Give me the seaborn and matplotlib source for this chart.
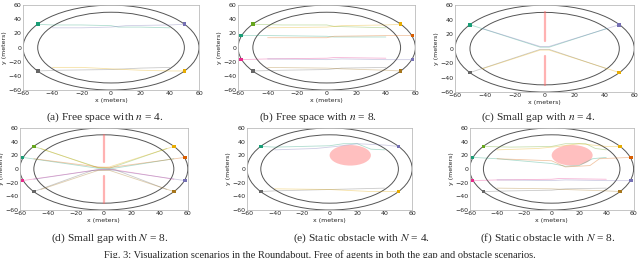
import matplotlib
matplotlib.use("Agg")
import matplotlib.pyplot as plt
from matplotlib.patches import Ellipse
import seaborn as sns
import pandas as pd

sns.set_style("white")
plt.rcParams["font.family"] = "DejaVu Sans"
plt.rcParams["mathtext.fontset"] = "stix"

# agent start points and colours
colors4 = ["#1b9e77", "#7570b3", "#666666", "#e6ab02"]
start4_x = [-50, 50, -50, 50]
start4_y = [33, 33, -33, -33]
colors8 = ["#66a61e", "#e6ab02", "#1b9e77", "#d95f02",
           "#e7298a", "#7570b3", "#666666", "#a6761d"]
start8_x = [-50, 50, -58, 58, -58, 58, -50, 50]
start8_y = [33, 33, 17, 17, -17, -17, -33, -33]

# (a) free space, n = 4
free4_x = [[-50, -40, -20, 0, 5, 20, 40],
           [50, 40, 10, 0, -20, -40],
           [-50, -35, 0, 20, 40],
           [50, 40, 20, 0, -20, -40]]
free4_y = [[33, 32, 32, 31, 29, 29, 28],
           [33, 32, 31, 29, 28, 28],
           [-33, -32, -31, -29, -28],
           [-33, -33, -32, -30, -28, -28]]

# (b) free space, n = 8
free8_x = [[-50, -30, 0, 5, 40],
           [50, 40, 10, 0, -40],
           [-58, -40, 0, 5, 40],
           [58, 40, 5, 0, -40],
           [-58, -40, 0, 5, 40],
           [58, 40, 10, 0, -40],
           [-50, -30, 0, 10, 40],
           [50, 40, 10, 0, -40]]
free8_y = [[33, 32, 32, 30, 28],
           [33, 32, 31, 29, 28],
           [17, 17, 16, 15, 15],
           [17, 17, 16, 14, 14],
           [-17, -16, -15, -14, -15],
           [-17, -17, -16, -17, -16],
           [-33, -32, -31, -29, -28],
           [-33, -32, -30, -29, -28]]

# (c) small gap, n = 4
gap4_x = [[-50, -3, 3, 42],
          [50, 3, -3, -42],
          [-50, -3, 3, 42],
          [50, 3, -3, -42]]
gap4_y = [[33, 2, 2, 28],
          [33, 3, 3, 28],
          [-33, -1, -1, -28],
          [-33, -2, -2, -28]]

# (d) small gap, n = 8
gap8_x = [[-50, -4, 4, 45],
          [50, 4, -5, -45],
          [-58, -4, 4, 50],
          [58, 4, -4, -50],
          [-58, -4, 4, 50],
          [58, 4, -4, -50],
          [-50, -8, 8, 45],
          [50, 4, -4, -45]]
gap8_y = [[33, 2, 1, 30],
          [33, 3, 2, 30],
          [17, 1, 0, 15],
          [17, 2, 3, 15],
          [-17, -1, 0, -15],
          [-17, -1, -1, -15],
          [-33, -2, -1, -30],
          [-33, -2, -2, -30]]

# (e) static obstacle, n = 4
obs4_x = [[-50, -40, 0, 10, 20, 30, 40],
          [50, 40, 20, 5, -10, -40],
          [-50, -40, 0, 40],
          [50, 30, 0, -40]]
obs4_y = [[33, 32, 34, 37, 37, 29, 28],
          [33, 35, 37, 33, 30, 28],
          [-33, -32, -30, -28],
          [-33, -33, -30, -29]]

# (f) static obstacle, n = 8
obs8_x = [[-50, -30, 0, 10, 25, 32, 40],
          [50, 40, 20, 5, -10, -40],
          [-58, -40, 0, 10, 20, 30, 40],
          [58, 35, 28, 10, 0, -40],
          [-58, -40, 0, 5, 40],
          [58, 40, 10, 0, -40],
          [-50, -30, 0, 10, 40],
          [50, 40, 10, 0, -40]]
obs8_y = [[33, 32, 33, 37, 37, 30, 28],
          [33, 33, 37, 33, 30, 28],
          [17, 15, 8, 4, 5, 15, 17],
          [17, 15, 5, 3, 12, 15],
          [-17, -16, -15, -14, -15],
          [-17, -17, -16, -17, -16],
          [-33, -32, -31, -29, -28],
          [-33, -32, -30, -29, -28]]

ticks = [-60, -40, -20, 0, 20, 40, 60]
wall_y = [[10, 50], [-10, -50]]
obstacle = (15, 20, 15)

fig = plt.figure(figsize=(6.4, 2.58), dpi=100)


def panel(rect, xs, ys, sx, sy, colors, walls=False, obst=False):
    ax = fig.add_axes(rect)
    names = ["a%d" % i for i in range(len(xs))]
    pal = dict(zip(names, colors))
    rows = []
    for name, tx, ty in zip(names, xs, ys):
        for i, (px, py) in enumerate(zip(tx, ty)):
            rows.append({"agent": name, "step": i, "x": px, "y": py})
    df = pd.DataFrame(rows)
    ax.add_patch(Ellipse((0, 0), 120, 120, fill=False, ec="#555555", lw=0.7))
    ax.add_patch(Ellipse((0, 0), 100, 100, fill=False, ec="#555555", lw=0.7))
    if walls:
        for wy in wall_y:
            ax.plot([0, 0], wy, color="#ff6666", alpha=0.5, lw=1.6, zorder=1)
    if obst:
        ax.add_patch(Ellipse(obstacle[:2], 2 * obstacle[2], 2 * obstacle[2],
                             color="#ff8080", alpha=0.5, lw=0, zorder=1))
    sns.lineplot(data=df, x="x", y="y", hue="agent", palette=pal, sort=False,
                 estimator=None, lw=0.6, alpha=0.35, legend=False, ax=ax)
    sns.scatterplot(x=sx, y=sy, hue=names, palette=pal, marker="s", s=7,
                    linewidth=0, legend=False, zorder=3, ax=ax)
    ax.set_xlim(-60, 60)
    ax.set_ylim(-60, 60)
    ax.set_xticks(ticks)
    ax.set_yticks(ticks)
    ax.tick_params(labelsize=4.5, length=0, pad=1)
    ax.set_xlabel("x (meters)", fontsize=4.5, labelpad=1)
    ax.set_ylabel("y (meters)", fontsize=4.5, labelpad=1)
    for s in ax.spines.values():
        s.set_color("#bbbbbb")
        s.set_linewidth(0.6)
    return ax


panel([0.036, 0.651, 0.275, 0.329], free4_x, free4_y, start4_x, start4_y, colors4)
panel([0.372, 0.651, 0.277, 0.329], free8_x, free8_y, start8_x, start8_y, colors8)
panel([0.711, 0.643, 0.280, 0.337], gap4_x, gap4_y, start4_x, start4_y, colors4, walls=True)
panel([0.031, 0.186, 0.2625, 0.318], gap8_x, gap8_y, start8_x, start8_y, colors8, walls=True)
panel([0.386, 0.186, 0.258, 0.318], obs4_x, obs4_y, start4_x, start4_y, colors4, obst=True)
panel([0.734, 0.186, 0.256, 0.318], obs8_x, obs8_y, start8_x, start8_y, colors8, obst=True)

cap = dict(family="Liberation Serif", fontsize=8.2, ha="center", va="center")
fig.text(105 / 640, 1 - 117 / 258, "(a) Free space with $n$ = 4.", **cap)
fig.text(318 / 640, 1 - 117 / 258, "(b) Free space with $n$ = 8.", **cap)
fig.text(538 / 640, 1 - 117 / 258, "(c) Small gap with $n$ = 4.", **cap)
fig.text(110 / 640, 1 - 238 / 258, "(d) Small gap with $N$ = 8.", **cap)
fig.text(361 / 640, 1 - 238 / 258, "(e) Static obstacle with $N$ = 4.", **cap)
fig.text(548 / 640, 1 - 238 / 258, "(f) Static obstacle with $N$ = 8.", **cap)
fig.text(0.5, 1 - 250 / 258,
         "Fig. 3: Visualization scenarios in the Roundabout. Free of agents in both the gap and obstacle scenarios.",
         family="Liberation Serif", fontsize=7.5, ha="center", va="top")

fig.savefig("out.png", dpi=100)
